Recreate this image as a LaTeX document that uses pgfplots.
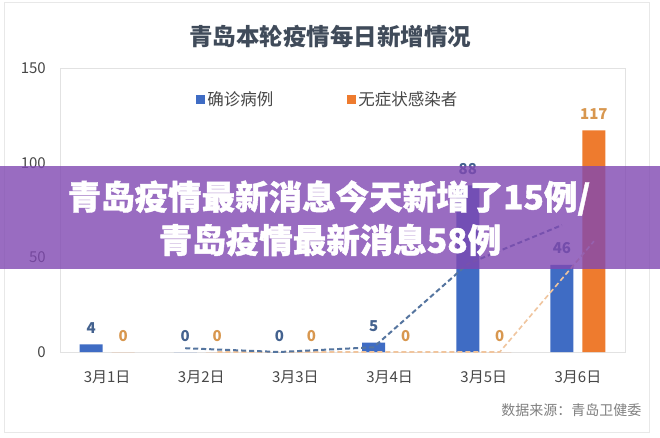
\documentclass[border=0pt]{standalone}
\usepackage{fontspec}
\setmainfont{Noto Sans CJK SC}
\newfontfamily\bannerfont{Noto Sans CJK SC}[BoldFeatures={FakeBold=1.2}]
\usepackage{pgfplots}
\pgfplotsset{compat=1.18}
\definecolor{barblue}{HTML}{3F6CC4}
\definecolor{barorange}{HTML}{EE7B2E}
\definecolor{lblblue}{HTML}{44628F}
\definecolor{lblorange}{HTML}{D8974F}
\definecolor{trendblue}{HTML}{55759F}
\definecolor{trendorange}{HTML}{F0C59E}
\definecolor{titlecol}{HTML}{404B5A}
\definecolor{ticktext}{HTML}{474747}
\definecolor{boxgray}{HTML}{E2E2E2}
\definecolor{cardgray}{HTML}{E8E8E8}
\definecolor{banner}{RGB}{128,72,178}
\begin{document}
\begin{tikzpicture}
\fill[white] (0pt,0pt) rectangle (660pt,437pt);
\draw[cardgray, line width=1pt] (4.5pt,5pt) rectangle (649pt,434pt);
\node[font=\fontsize{23.5}{23.5}\selectfont\bfseries, text=titlecol] at (330pt,400pt) {青岛本轮疫情每日新增情况};
\begin{axis}[
  at={(60pt,85pt)}, anchor=south west, scale only axis,
  width=565pt, height=284pt,
  xmin=-0.5, xmax=5.5, ymin=0, ymax=150,
  ytick={0,50,100,150},
  xtick={0,1,2,3,4,5},
  xticklabels={3月1日,3月2日,3月3日,3月4日,3月5日,3月6日},
  major tick length=0pt,
  axis line style={boxgray, line width=0.8pt},
  /pgf/number format/assume math mode=true,
  yticklabel style={font=\fontsize{15}{15}\selectfont, text=ticktext, anchor=east, inner sep=0pt, xshift=-14pt},
  xticklabel style={font=\fontsize{15}{15}\selectfont, text=ticktext, anchor=center, inner sep=0pt, yshift=-25pt},
  ybar, bar width=23pt,
  clip=false,
  legend style={at={(0.474,0.89)}, anchor=center, draw=none, fill=none,
    legend columns=2, font=\fontsize{16.5}{16.5}\selectfont, text=ticktext,
    /tikz/every even column/.append style={column sep=72pt}},
  legend image code/.code={\fill[#1] (0pt,-4.5pt) rectangle (9pt,4.5pt);},
]
\addplot[ybar, bar shift=-16pt, fill=barblue, draw=none,
  nodes near coords,
  every node near coord/.append style={font=\fontsize{15}{15}\selectfont\bfseries, text=lblblue, anchor=base, inner sep=0pt, yshift=11pt}]
  coordinates {(0,4) (1,0) (2,0) (3,5) (4,88) (5,46)};
\addlegendentry{确诊病例}
\addplot[ybar, bar shift=16pt, fill=barorange, draw=none,
  nodes near coords,
  every node near coord/.append style={font=\fontsize{15}{15}\selectfont\bfseries, text=lblorange, anchor=base, inner sep=0pt, yshift=11pt}]
  coordinates {(0,0) (1,0) (2,0) (3,0) (4,0) (5,117)};
\addlegendentry{无症状感染者}
\addplot[sharp plot, forget plot, trendorange, line width=1.6pt, dash pattern=on 5pt off 3pt]
  coordinates {(1.17,0) (2.17,0) (3.17,0) (4.17,0) (5.17,58.5)};
\addplot[sharp plot, forget plot, trendblue, line width=2pt, dash pattern=on 5pt off 3pt]
  coordinates {(0.83,2) (1.83,0) (2.83,2.5) (3.83,46.5) (4.83,67)};
\end{axis}
\fill[banner, fill opacity=0.8] (0pt,168pt) rectangle (660pt,271pt);
\node[font=\bannerfont\fontsize{33.5}{33.5}\selectfont\bfseries, text=white] at (329pt,239pt) {青岛疫情最新消息今天新增了15例/};
\node[font=\bannerfont\fontsize{33.5}{33.5}\selectfont\bfseries, text=white] at (330pt,197pt) {青岛疫情最新消息58例};
\node[font=\fontsize{14}{14}\selectfont, text=gray, anchor=east] at (645pt,27pt) {数据来源：青岛卫健委};
\end{tikzpicture}
\end{document}
